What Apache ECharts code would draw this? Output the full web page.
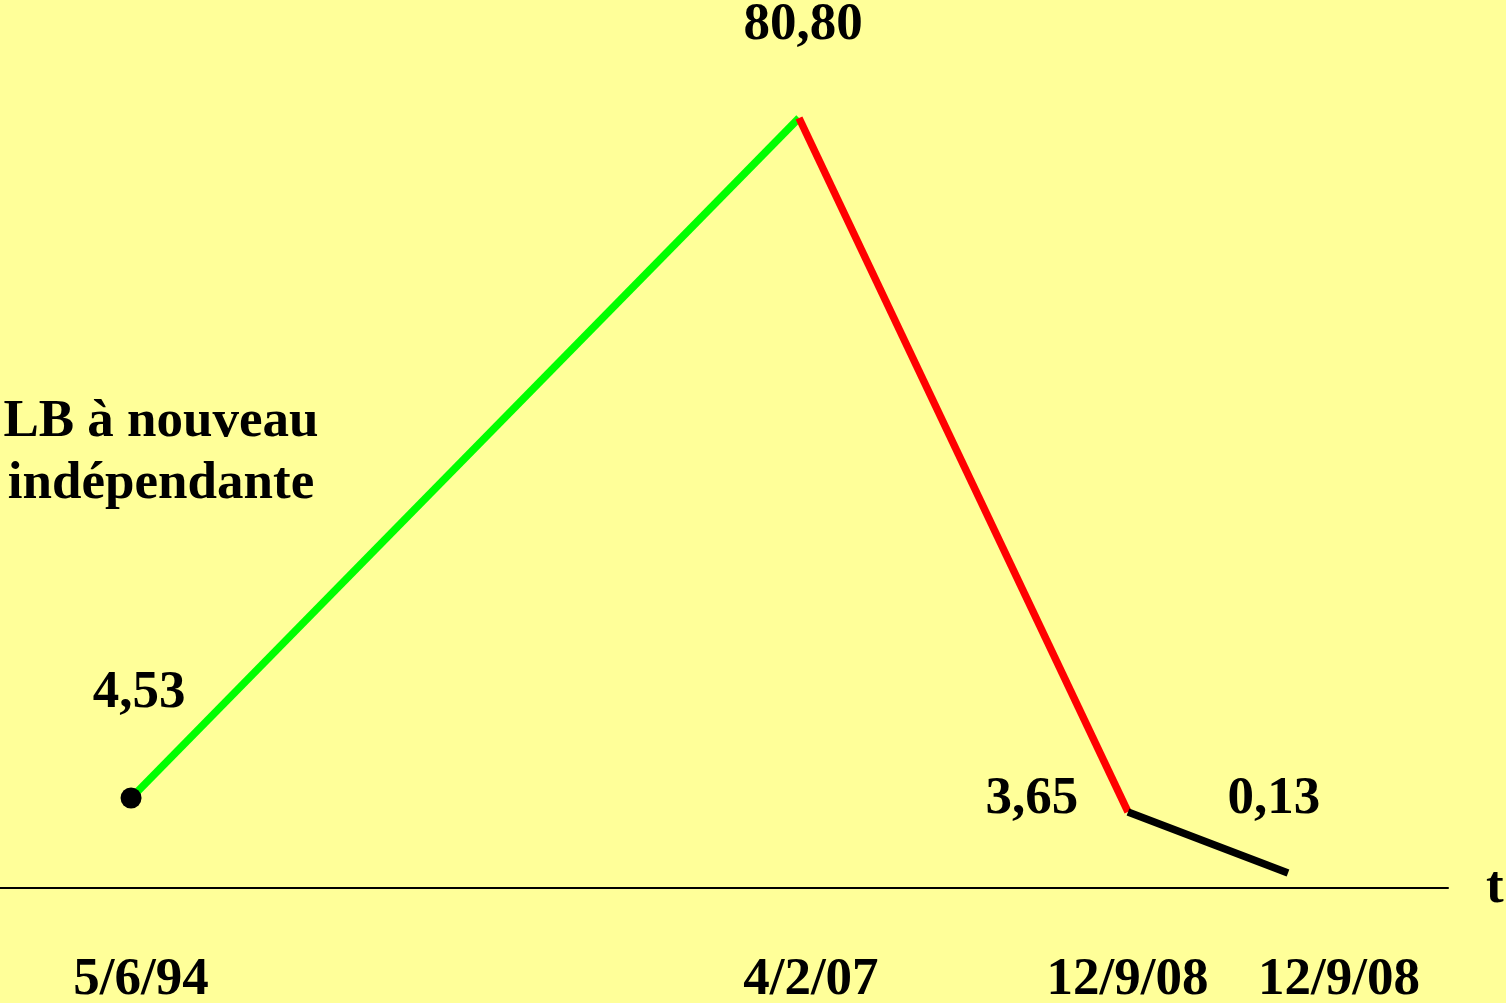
<!DOCTYPE html>
<html>
<head>
<meta charset="utf-8">
<script src="https://cdn.jsdelivr.net/npm/echarts@6/dist/echarts.min.js"></script>
<style>
  html, body { margin: 0; padding: 0; background: #ffff99; }
  #main { width: 1506px; height: 1003px; }
</style>
</head>
<body>
<div id="main"></div>
<script>
// positions along the (schematic) time axis, 0..100
var xPos = [9.05, 55.18, 77.9, 88.95];
// heights as drawn (the chart is not to scale); peak = 80.80
var levels = [9.44, 80.8, 7.98, 1.57];
var valueLabels = ["4,53", "80,80", "3,65", "0,13"];
var dates = ["5/6/94", "4/2/07", "12/9/08", "12/9/08"];
var datePos = [9.74, 56.0, 77.86, 92.47];
var labelOffsets = [[8, -105], [4, -93], [-96, -13], [-14, -74]];

var FONT = "Liberation Serif";

function pt(i) {
  return [xPos[i], levels[i]];
}

var chart = echarts.init(document.getElementById("main"));

var option = {
  backgroundColor: "#ffff99",
  animation: false,
  grid: { left: 0, right: 58, top: 118, bottom: 115, outerBoundsMode: "none" },
  xAxis: {
    type: "value",
    min: 0,
    max: 100,
    name: "t",
    nameLocation: "end",
    nameGap: 38,
    nameTextStyle: { fontFamily: FONT, fontWeight: "bold", fontSize: 53, color: "#000" },
    axisLine: { show: true, lineStyle: { color: "#000", width: 2 } },
    axisTick: { show: false },
    splitLine: { show: false },
    axisLabel: {
      customValues: datePos,
      margin: 66,
      fontFamily: FONT,
      fontWeight: "bold",
      fontSize: 53,
      color: "#000",
      formatter: function (v) {
        var i = datePos.indexOf(v);
        return i >= 0 ? dates[i] : "";
      }
    }
  },
  yAxis: {
    type: "value",
    min: 0,
    max: 80.8,
    show: false
  },
  graphic: [
    {
      type: "text",
      x: 161,
      y: 391,
      style: {
        text: "LB à nouveau\nindépendante",
        fontFamily: FONT,
        fontWeight: "bold",
        fontSize: 53,
        lineHeight: 62,
        align: "center",
        verticalAlign: "top",
        fill: "#000"
      }
    }
  ],
  series: [
    {
      name: "hausse",
      type: "line",
      data: [pt(0), pt(1)],
      symbol: "none",
      lineStyle: { color: "#00ff00", width: 7.5 }
    },
    {
      name: "chute",
      type: "line",
      data: [pt(1), pt(2)],
      symbol: "none",
      lineStyle: { color: "#ff0000", width: 7.5 }
    },
    {
      name: "fin",
      type: "line",
      data: [pt(2), pt(3)],
      symbol: "none",
      lineStyle: { color: "#000", width: 7.5 }
    },
    {
      name: "points",
      type: "scatter",
      z: 5,
      emphasis: { disabled: true },
      data: xPos.map(function (x, i) {
        return {
          value: pt(i),
          symbolSize: i === 0 ? 21 : 1,
          itemStyle: { color: i === 0 ? "#000" : "rgba(0,0,0,0)", opacity: 1 },
          label: {
            show: true,
            position: "inside",
            offset: labelOffsets[i],
            formatter: valueLabels[i],
            fontFamily: FONT,
            fontWeight: "bold",
            fontSize: 53,
            color: "#000",
            opacity: 1
          }
        };
      })
    }
  ]
};

chart.setOption(option);
</script>
</body>
</html>
